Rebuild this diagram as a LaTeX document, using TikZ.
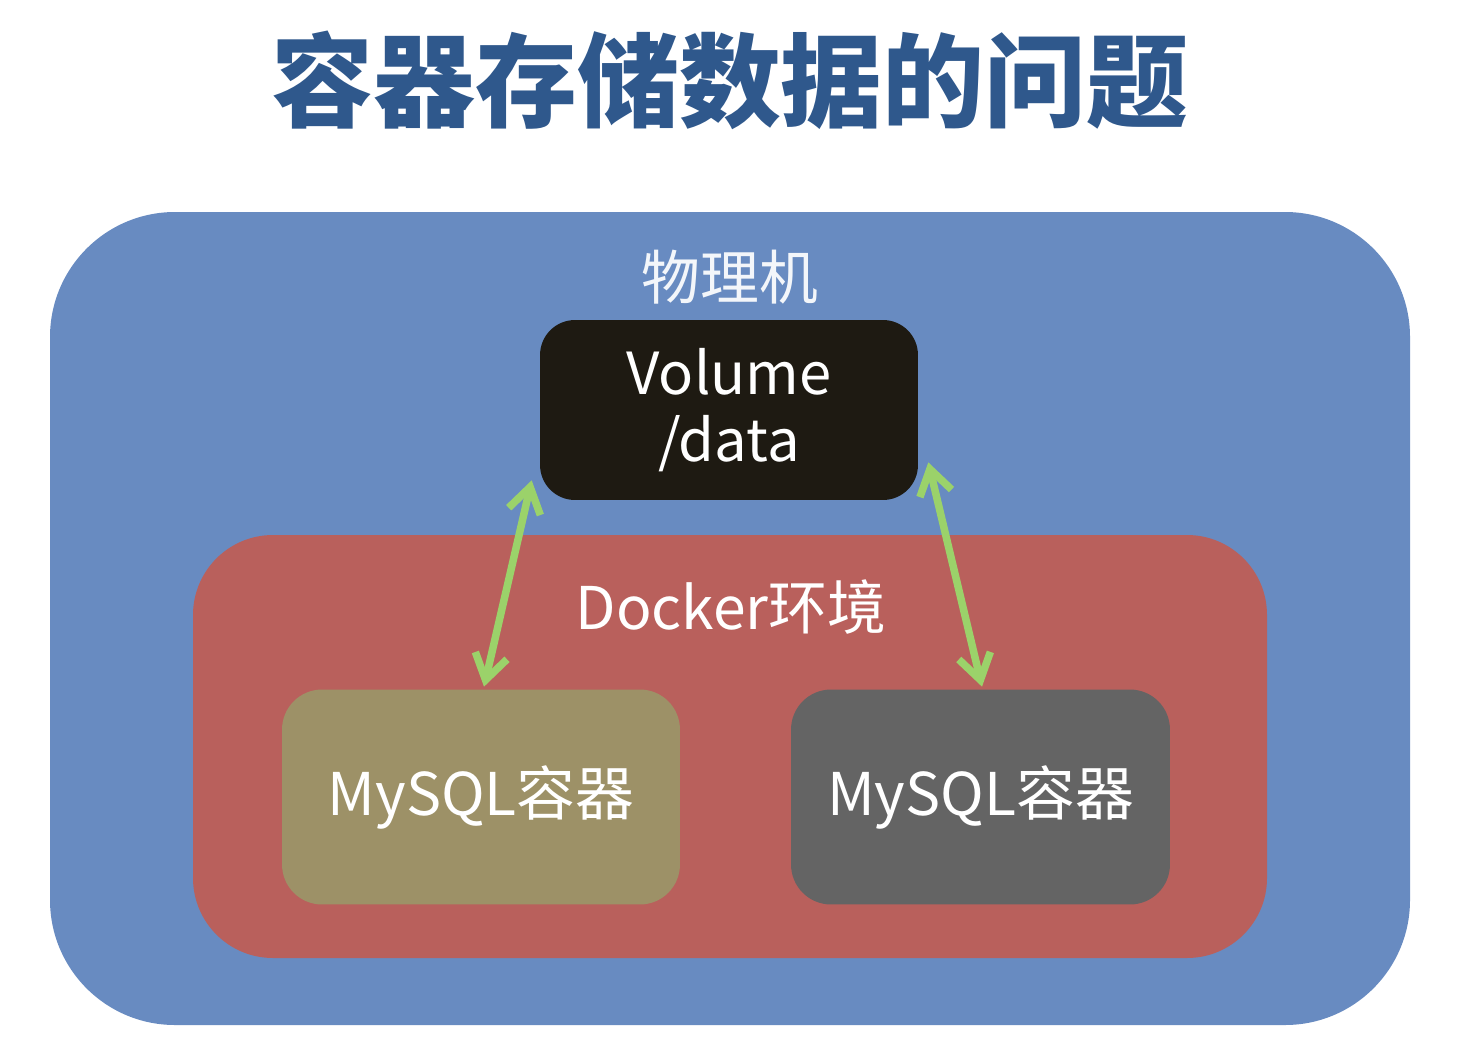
\documentclass[tikz,border=0pt]{standalone}
\usepackage{fontspec}
\newfontfamily\cjk{Noto Sans CJK SC}
\usepackage{tikz}
\usetikzlibrary{arrows.meta, positioning}
\definecolor{titleblue}{RGB}{47,88,140}
\definecolor{hostblue}{RGB}{104,139,193}
\definecolor{dockerred}{RGB}{185,96,92}
\definecolor{volumeblack}{RGB}{30,26,18}
\definecolor{mysqlolive}{RGB}{157,145,103}
\definecolor{mysqlgray}{RGB}{100,100,100}
\definecolor{linkgreen}{RGB}{155,210,106}
\tikzset{
    % Area styles
    host area/.style={
        fill=hostblue,
        rounded corners=2.5cm
    },
    docker area/.style={
        fill=dockerred,
        rounded corners=1.6cm
    },
    % Box styles
    volume box/.style={
        fill=volumeblack,
        rounded corners=0.7cm,
        minimum width=7.56cm,
        minimum height=3.6cm,
        align=center,
        text=white,
        font=\cjk\fontsize{33}{38}\selectfont
    },
    mysql box/.style={
        rounded corners=0.8cm,
        minimum width=7.96cm,
        minimum height=4.3cm,
        text=white,
        font=\cjk\fontsize{33.5}{40}\selectfont
    },
    area label/.style={
        text=white,
        font=\cjk\fontsize{33.5}{40}\selectfont
    },
    % Arrow styles
    link arrow/.style={
        {Straight Barb[length=0.5cm, width=0.65cm]}-{Straight Barb[length=0.5cm, width=0.65cm]},
        line width=0.15cm,
        line cap=round,
        line join=round,
        linkgreen
    }
}

\begin{document}
\begin{tikzpicture}[x=0.02cm, y=-0.02cm]
        \useasboundingbox (0,0) rectangle (1474,1058);

        % Title
        \node[text=titleblue, font=\cjk\bfseries\fontsize{58}{66}\selectfont] (title) at (730,80) {容器存储数据的问题};

        % Physical host and docker areas
        \fill[host area] (50,212) rectangle (1410,1025);
        \node[area label, text=white!92!hostblue] (host) at (730,277) {物理机};
        \fill[docker area] (193,535) rectangle (1267,958);
        \node[area label] (docker) at (731,607) {Docker环境};

        % Volume and containers
        \node[volume box] (vol) at (729,410) {Volume\\/data};
        \node[mysql box, fill=mysqlolive] (mysqlA) at (481,797) {MySQL容器};
        \node[mysql box, fill=mysqlgray, minimum width=7.58cm] (mysqlB) at (980.5,797) {MySQL容器};

        % Mounts
        \draw[link arrow] ([xshift=-0.16cm, yshift=0.4cm]vol.south west) -- ([xshift=0.06cm, yshift=0.05cm]mysqlA.north);
        \draw[link arrow] ([xshift=0.2cm, yshift=0.76cm]vol.south east) -- ([xshift=0.03cm, yshift=0.05cm]mysqlB.north);
    \end{tikzpicture}
\end{document}
